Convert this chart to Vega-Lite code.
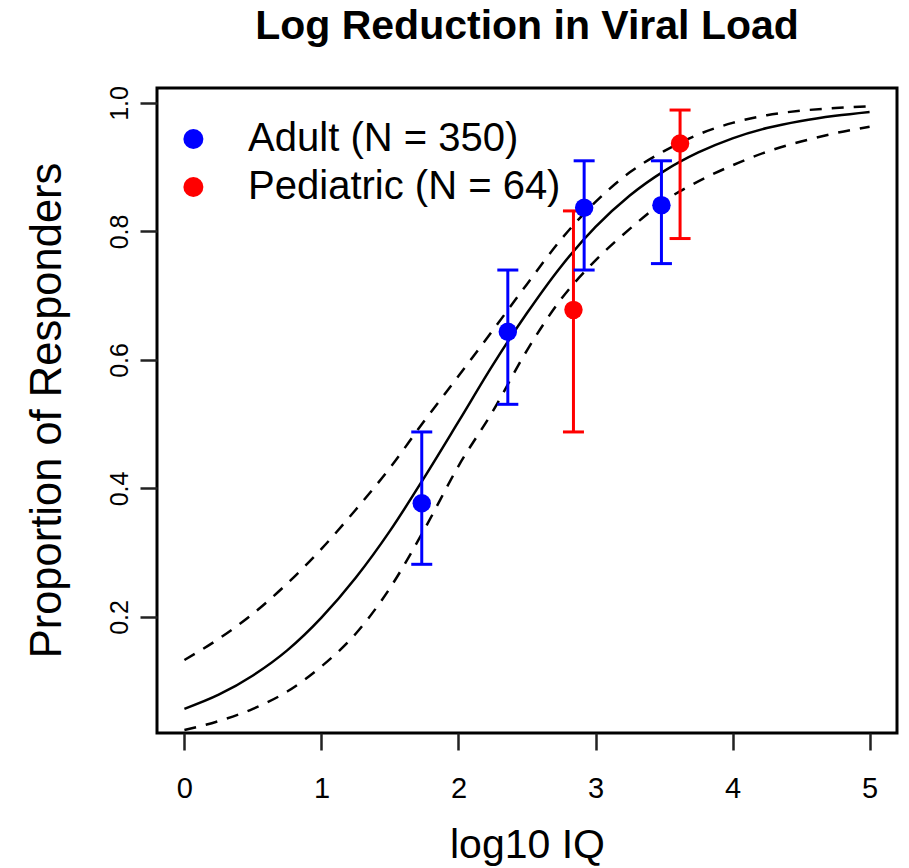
{
  "$schema": "https://vega.github.io/schema/vega-lite/v6.json",
  "width": 740,
  "height": 645,
  "autosize": "none",
  "padding": {"left": 157, "top": 88, "right": 12, "bottom": 135},
  "background": "white",
  "title": {
    "text": "Log Reduction in Viral Load",
    "font": "Liberation Sans",
    "fontSize": 41,
    "fontWeight": "bold",
    "color": "black",
    "anchor": "middle",
    "frame": "group",
    "baseline": "alphabetic",
    "offset": 6
  },
  "datasets": {
    "curve": [
      {"x": 0.0, "fit": 0.057, "lower": 0.024, "upper": 0.133},
      {"x": 0.25, "fit": 0.079, "lower": 0.038, "upper": 0.166},
      {"x": 0.5, "fit": 0.109, "lower": 0.057, "upper": 0.205},
      {"x": 0.75, "fit": 0.148, "lower": 0.084, "upper": 0.252},
      {"x": 1.0, "fit": 0.199, "lower": 0.123, "upper": 0.306},
      {"x": 1.25, "fit": 0.261, "lower": 0.174, "upper": 0.367},
      {"x": 1.5, "fit": 0.334, "lower": 0.245, "upper": 0.432},
      {"x": 1.75, "fit": 0.417, "lower": 0.336, "upper": 0.505},
      {"x": 2.0, "fit": 0.504, "lower": 0.435, "upper": 0.575},
      {"x": 2.25, "fit": 0.592, "lower": 0.52, "upper": 0.646},
      {"x": 2.5, "fit": 0.673, "lower": 0.615, "upper": 0.718},
      {"x": 2.75, "fit": 0.746, "lower": 0.695, "upper": 0.788},
      {"x": 3.0, "fit": 0.807, "lower": 0.755, "upper": 0.846},
      {"x": 3.25, "fit": 0.856, "lower": 0.804, "upper": 0.892},
      {"x": 3.5, "fit": 0.894, "lower": 0.847, "upper": 0.925},
      {"x": 3.75, "fit": 0.923, "lower": 0.878, "upper": 0.951},
      {"x": 4.0, "fit": 0.945, "lower": 0.903, "upper": 0.969},
      {"x": 4.25, "fit": 0.961, "lower": 0.924, "upper": 0.981},
      {"x": 4.5, "fit": 0.972, "lower": 0.94, "upper": 0.988},
      {"x": 4.75, "fit": 0.98, "lower": 0.953, "upper": 0.992},
      {"x": 5.0, "fit": 0.986, "lower": 0.963, "upper": 0.995}
    ],
    "obs": [
      {"group": "Adult (N = 350)", "x": 1.732, "p": 0.377, "lo": 0.282, "hi": 0.488},
      {"group": "Adult (N = 350)", "x": 2.36, "p": 0.644, "lo": 0.531, "hi": 0.74},
      {"group": "Adult (N = 350)", "x": 2.917, "p": 0.837, "lo": 0.74, "hi": 0.91},
      {"group": "Adult (N = 350)", "x": 3.481, "p": 0.841, "lo": 0.75, "hi": 0.91},
      {"group": "Pediatric (N = 64)", "x": 2.839, "p": 0.678, "lo": 0.488, "hi": 0.832},
      {"group": "Pediatric (N = 64)", "x": 3.617, "p": 0.937, "lo": 0.789, "hi": 0.989}
    ]
  },
  "layer": [
    {
      "data": {"name": "curve"},
      "mark": {"type": "line", "color": "black", "strokeWidth": 2.5, "interpolate": "monotone"},
      "encoding": {
        "x": {"field": "x", "type": "quantitative", "title": "log10 IQ",
              "scale": {"domain": [-0.2, 5.2], "nice": false, "zero": false},
              "axis": {"values": [0, 1, 2, 3, 4, 5], "format": "d"}},
        "y": {"field": "fit", "type": "quantitative", "title": "Proportion of Responders",
              "scale": {"domain": [0.01946, 1.0233], "nice": false, "zero": false},
              "axis": {"values": [0.2, 0.4, 0.6, 0.8, 1.0], "format": ".1f"}}
      }
    },
    {
      "data": {"name": "curve"},
      "mark": {"type": "line", "color": "black", "strokeWidth": 2.5, "strokeDash": [12, 10], "interpolate": "monotone"},
      "encoding": {
        "x": {"field": "x", "type": "quantitative", "title": "log10 IQ"},
        "y": {"field": "lower", "type": "quantitative", "title": "Proportion of Responders"}
      }
    },
    {
      "data": {"name": "curve"},
      "mark": {"type": "line", "color": "black", "strokeWidth": 2.5, "strokeDash": [12, 10], "interpolate": "monotone"},
      "encoding": {
        "x": {"field": "x", "type": "quantitative", "title": "log10 IQ"},
        "y": {"field": "upper", "type": "quantitative", "title": "Proportion of Responders"}
      }
    },
    {
      "data": {"name": "obs"},
      "mark": {"type": "rule", "strokeWidth": 3},
      "encoding": {
        "x": {"field": "x", "type": "quantitative", "title": "log10 IQ"},
        "y": {"field": "lo", "type": "quantitative", "title": "Proportion of Responders"},
        "y2": {"field": "hi"},
        "color": {"field": "group", "type": "nominal",
                  "scale": {"domain": ["Adult (N = 350)", "Pediatric (N = 64)"], "range": ["#0000ff", "#ff0000"]},
                  "legend": {"orient": "none", "legendX": 16.4, "legendY": 31, "title": null,
                             "symbolType": "circle", "symbolSize": 400, "symbolStrokeWidth": 0, "symbolOpacity": 1,
                             "labelFont": "Liberation Sans", "labelFontSize": 40, "labelColor": "black",
                             "labelOffset": 34.7, "rowPadding": 8, "padding": 0, "labelLimit": 0}}
      }
    },
    {
      "data": {"name": "obs"},
      "mark": {"type": "rule", "strokeWidth": 3, "xOffset": -10.5, "x2Offset": 10.5},
      "encoding": {
        "x": {"field": "x", "type": "quantitative", "title": "log10 IQ"},
        "x2": {"field": "x"},
        "y": {"field": "lo", "type": "quantitative", "title": "Proportion of Responders"},
        "color": {"field": "group", "type": "nominal",
                  "scale": {"domain": ["Adult (N = 350)", "Pediatric (N = 64)"], "range": ["#0000ff", "#ff0000"]},
                  "legend": {"orient": "none", "legendX": 16.4, "legendY": 31, "title": null,
                             "symbolType": "circle", "symbolSize": 400, "symbolStrokeWidth": 0, "symbolOpacity": 1,
                             "labelFont": "Liberation Sans", "labelFontSize": 40, "labelColor": "black",
                             "labelOffset": 34.7, "rowPadding": 8, "padding": 0, "labelLimit": 0}}
      }
    },
    {
      "data": {"name": "obs"},
      "mark": {"type": "rule", "strokeWidth": 3, "xOffset": -10.5, "x2Offset": 10.5},
      "encoding": {
        "x": {"field": "x", "type": "quantitative", "title": "log10 IQ"},
        "x2": {"field": "x"},
        "y": {"field": "hi", "type": "quantitative", "title": "Proportion of Responders"},
        "color": {"field": "group", "type": "nominal",
                  "scale": {"domain": ["Adult (N = 350)", "Pediatric (N = 64)"], "range": ["#0000ff", "#ff0000"]},
                  "legend": {"orient": "none", "legendX": 16.4, "legendY": 31, "title": null,
                             "symbolType": "circle", "symbolSize": 400, "symbolStrokeWidth": 0, "symbolOpacity": 1,
                             "labelFont": "Liberation Sans", "labelFontSize": 40, "labelColor": "black",
                             "labelOffset": 34.7, "rowPadding": 8, "padding": 0, "labelLimit": 0}}
      }
    },
    {
      "data": {"name": "obs"},
      "mark": {"type": "point", "shape": "circle", "filled": true, "opacity": 1, "size": 340},
      "encoding": {
        "x": {"field": "x", "type": "quantitative", "title": "log10 IQ"},
        "y": {"field": "p", "type": "quantitative", "title": "Proportion of Responders"},
        "color": {"field": "group", "type": "nominal",
                  "scale": {"domain": ["Adult (N = 350)", "Pediatric (N = 64)"], "range": ["#0000ff", "#ff0000"]},
                  "legend": {"orient": "none", "legendX": 16.4, "legendY": 31, "title": null,
                             "symbolType": "circle", "symbolSize": 400, "symbolStrokeWidth": 0, "symbolOpacity": 1,
                             "labelFont": "Liberation Sans", "labelFontSize": 40, "labelColor": "black",
                             "labelOffset": 34.7, "rowPadding": 8, "padding": 0, "labelLimit": 0}}
      }
    }
  ],
  "config": {
    "view": {"stroke": "black", "strokeWidth": 3},
    "axis": {"grid": false, "domain": false},
    "legend": {"symbolFillColor": null},
    "axisX": {
      "ticks": true, "tickSize": 17, "tickWidth": 2.5, "tickColor": "#222222",
      "labelFont": "Liberation Sans", "labelFontSize": 29, "labelColor": "black",
      "labelBaseline": "alphabetic", "labelPadding": 47, "labelFlush": false, "labelOverlap": false,
      "titleFont": "Liberation Sans", "titleFontSize": 41, "titleFontWeight": "normal", "titleColor": "black",
      "titleBaseline": "alphabetic", "titleY": 124
    },
    "axisY": {
      "ticks": true, "tickSize": 17, "tickWidth": 2.5, "tickColor": "#222222",
      "labelFont": "Liberation Sans", "labelFontSize": 25, "labelColor": "black",
      "labelAngle": -90, "labelAlign": "center", "labelBaseline": "alphabetic", "labelPadding": 13,
      "labelFlush": false, "labelOverlap": false,
      "titleFont": "Liberation Sans", "titleFontSize": 43.5, "titleFontWeight": "normal", "titleColor": "black",
      "titleAngle": -90, "titleAlign": "center", "titleBaseline": "alphabetic", "titleX": -97, "titleY": 322
    }
  }
}
